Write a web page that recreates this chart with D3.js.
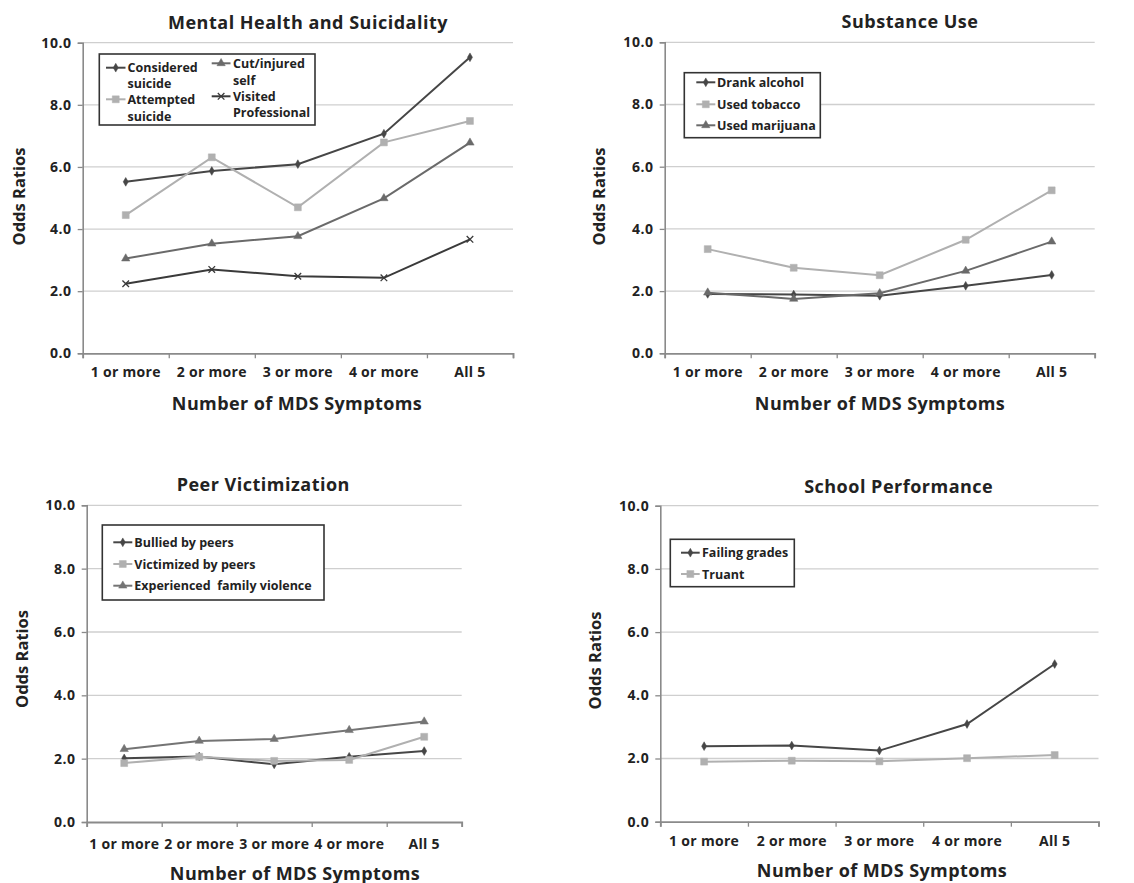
<!DOCTYPE html>
<html>
<head>
<meta charset="utf-8">
<script src="https://cdn.jsdelivr.net/npm/d3@7"></script>
<style>
  html, body { margin: 0; padding: 0; background: #fff; }
  svg { display: block; }
  text { font-family: "Open Sans", "DejaVu Sans", sans-serif; font-weight: 700; fill: #222; }
</style>
</head>
<body>
<svg id="chart" width="1134" height="883"></svg>
<script>
// ---------------- DATA ----------------
const categories = ["1 or more", "2 or more", "3 or more", "4 or more", "All 5"];
const yTickValues = [0, 2, 4, 6, 8, 10];

// Mental Health and Suicidality
const consideredSuicide   = [5.52, 5.87, 6.09, 7.07, 9.53];
const attemptedSuicide    = [4.45, 6.31, 4.70, 6.79, 7.48];
const cutInjuredSelf      = [3.05, 3.53, 3.77, 4.99, 6.78];
const visitedProfessional = [2.24, 2.70, 2.48, 2.43, 3.67];

// Substance Use
const drankAlcohol  = [1.91, 1.89, 1.85, 2.17, 2.52];
const usedTobacco   = [3.35, 2.75, 2.51, 3.65, 5.24];
const usedMarijuana = [1.95, 1.75, 1.93, 2.65, 3.59];

// Peer Victimization
const bulliedByPeers     = [2.01, 2.07, 1.82, 2.06, 2.24];
const victimizedByPeers  = [1.86, 2.06, 1.93, 1.96, 2.69];
const familyViolence     = [2.30, 2.56, 2.62, 2.90, 3.17];

// School Performance
const failingGrades = [2.39, 2.41, 2.25, 3.09, 4.99];
const truant        = [1.90, 1.93, 1.91, 2.01, 2.11];

const panelTitles = ["Mental Health and Suicidality", "Substance Use", "Peer Victimization", "School Performance"];
const xAxisTitle = "Number of MDS Symptoms";
const yAxisTitle = "Odds Ratios";

// ---------------- STYLES ----------------
const DARK = "#464646", LIGHT = "#b0b0b0", MID = "#6a6a6a", DARKER = "#3a3a3a";

const symX = d3.symbolX || d3.symbolTimes;

const panels = [
  {
    title: panelTitles[0],
    box: {left: 82.7, right: 513, top: 42.7, bottom: 353.3},
    titleX: 308, titleY: 29.3, xLabY: 377, xTitleX: 297, xTitleY: 409.5, yTitleX: 25, yTitleY: 196.5,
    series: [
      {name: ["Considered", "suicide"], values: consideredSuicide, color: DARK, sym: d3.symbolDiamond, size: 22},
      {name: ["Attempted", "suicide"], values: attemptedSuicide, color: LIGHT, sym: d3.symbolSquare, size: 48},
      {name: ["Cut/injured", "self"], values: cutInjuredSelf, color: MID, sym: d3.symbolTriangle, size: 30},
      {name: ["Visited", "Professional"], values: visitedProfessional, color: DARKER, sym: symX, size: 30, stroke: true}
    ],
    legend: {x0: 99.3, y0: 54, x1: 315, y1: 125,
      items: [
        {col: 0, lineY: 67.7, lines: [71.5, 87.7]},
        {col: 0, lineY: 99.3, lines: [104.2, 120.5]},
        {col: 1, lineY: 63.3, lines: [68, 84.5]},
        {col: 1, lineY: 96.3, lines: [101, 117.3]}
      ],
      cols: [{l0: 106, l1: 125.5, tx: 127.5}, {l0: 211.7, l1: 230.5, tx: 233}]
    }
  },
  {
    title: panelTitles[1],
    box: {left: 664.7, right: 1094.7, top: 42.3, bottom: 353.3},
    titleX: 910, titleY: 27.5, xLabY: 377, xTitleX: 880, xTitleY: 409.5, yTitleX: 605, yTitleY: 196.5,
    series: [
      {name: ["Drank alcohol"], values: drankAlcohol, color: DARK, sym: d3.symbolDiamond, size: 22},
      {name: ["Used tobacco"], values: usedTobacco, color: LIGHT, sym: d3.symbolSquare, size: 48},
      {name: ["Used marijuana"], values: usedMarijuana, color: MID, sym: d3.symbolTriangle, size: 30}
    ],
    legend: {x0: 684.3, y0: 72.7, x1: 820.3, y1: 137.7,
      items: [
        {col: 0, lineY: 82.3, lines: [86.8]},
        {col: 0, lineY: 104.3, lines: [108.8]},
        {col: 0, lineY: 125.3, lines: [129.8]}
      ],
      cols: [{l0: 696.3, l1: 715.3, tx: 717}]
    }
  },
  {
    title: panelTitles[2],
    box: {left: 86.7, right: 461.7, top: 505.3, bottom: 822},
    titleX: 263.3, titleY: 490.7, xLabY: 849, xTitleX: 295, xTitleY: 879.5, yTitleX: 28, yTitleY: 659,
    series: [
      {name: ["Bullied by peers"], values: bulliedByPeers, color: DARK, sym: d3.symbolDiamond, size: 22},
      {name: ["Victimized by peers"], values: victimizedByPeers, color: LIGHT, sym: d3.symbolSquare, size: 48},
      {name: ["Experienced  family violence"], values: familyViolence, color: "#747474", sym: d3.symbolTriangle, size: 30}
    ],
    legend: {x0: 102.3, y0: 525, x1: 324, y1: 600,
      items: [
        {col: 0, lineY: 542.3, lines: [546.8]},
        {col: 0, lineY: 564, lines: [568.5]},
        {col: 0, lineY: 585.7, lines: [590.2]}
      ],
      cols: [{l0: 113.3, l1: 132.3, tx: 134.3}]
    }
  },
  {
    title: panelTitles[3],
    box: {left: 660.3, right: 1098.5, top: 505.7, bottom: 821.7},
    titleX: 898.7, titleY: 493.3, xLabY: 846, xTitleX: 882, xTitleY: 877, yTitleX: 601, yTitleY: 660.5,
    series: [
      {name: ["Failing grades"], values: failingGrades, color: DARK, sym: d3.symbolDiamond, size: 22},
      {name: ["Truant"], values: truant, color: LIGHT, sym: d3.symbolSquare, size: 48}
    ],
    legend: {x0: 670.3, y0: 539.3, x1: 794.3, y1: 586.7,
      items: [
        {col: 0, lineY: 552.7, lines: [557.2]},
        {col: 0, lineY: 574, lines: [578.5]}
      ],
      cols: [{l0: 681, l1: 699.7, tx: 702}]
    }
  }
];

const svg = d3.select("#chart");

function drawMarker(g, s, x, y) {
  const path = d3.symbol().type(s.sym).size(s.size)();
  const m = g.append("path").attr("d", path).attr("transform", `translate(${x},${y})`);
  if (s.stroke) m.attr("fill", "none").attr("stroke", s.color).attr("stroke-width", 1.3);
  else m.attr("fill", s.color).attr("stroke", s.color).attr("stroke-width", 0.5);
}

panels.forEach(p => {
  const g = svg.append("g");
  const b = p.box;
  const x = d3.scaleBand().domain(categories).range([b.left, b.right]).padding(0);
  const xEdges = d3.scaleLinear().domain([0, categories.length]).range([b.left, b.right]);
  const y = d3.scaleLinear().domain([0, 10]).range([b.bottom, b.top]);

  // gridlines
  g.append("g").selectAll("line").data(yTickValues.filter(v => v > 0)).join("line")
    .attr("x1", b.left).attr("x2", b.right)
    .attr("y1", d => y(d)).attr("y2", d => y(d))
    .attr("stroke", "#cfcfcf").attr("stroke-width", 1.3);

  // y axis
  const yAxis = g.append("g").attr("transform", `translate(${b.left},0)`)
    .call(d3.axisLeft(y).tickValues(yTickValues).tickFormat(d3.format(".1f")).tickSize(5).tickPadding(6));
  yAxis.select(".domain").attr("stroke", "#8a8a8a").attr("stroke-width", 1.6);
  yAxis.selectAll(".tick line").attr("stroke", "#8a8a8a").attr("stroke-width", 1.3);
  yAxis.selectAll(".tick text").attr("font-size", 14).attr("font-weight", 700)
    .attr("letter-spacing", 0.6)
    .attr("font-family", "'Open Sans', sans-serif").attr("fill", "#222");

  // x axis: edges ticks
  const xTicks = g.append("g").attr("transform", `translate(0,${b.bottom})`)
    .call(d3.axisBottom(xEdges).tickValues(d3.range(categories.length + 1)).tickFormat("").tickSize(5));
  xTicks.select(".domain").attr("stroke", "#8a8a8a").attr("stroke-width", 1.8);
  xTicks.selectAll(".tick line").attr("stroke", "#8a8a8a").attr("stroke-width", 1.3);

  // x axis labels
  const xLab = g.append("g").attr("transform", `translate(0,${b.bottom})`)
    .call(d3.axisBottom(x).tickSize(0).tickPadding(0));
  xLab.select(".domain").remove();
  xLab.selectAll(".tick text").attr("y", p.xLabY - b.bottom).attr("dy", 0)
    .attr("font-size", 14).attr("font-weight", 700).attr("letter-spacing", 0.3)
    .attr("font-family", "'Open Sans', sans-serif").attr("fill", "#222");

  // title
  g.append("text").attr("x", p.titleX).attr("y", p.titleY).attr("text-anchor", "middle")
    .attr("font-size", 18).attr("letter-spacing", 0.5).text(p.title);
  // x title
  g.append("text").attr("x", p.xTitleX).attr("y", p.xTitleY).attr("text-anchor", "middle")
    .attr("font-size", 18).attr("letter-spacing", 0.4).text(xAxisTitle);
  // y title
  g.append("text").attr("transform", `translate(${p.yTitleX},${p.yTitleY}) rotate(-90)`)
    .attr("text-anchor", "middle").attr("font-size", 16.5).text(yAxisTitle);

  // series
  const line = d3.line().x((d, i) => x(categories[i]) + x.bandwidth() / 2).y(d => y(d));
  p.series.forEach(s => {
    g.append("path").datum(s.values).attr("d", line).attr("fill", "none")
      .attr("stroke", s.color).attr("stroke-width", 2);
    s.values.forEach((v, i) => drawMarker(g, s, x(categories[i]) + x.bandwidth() / 2, y(v)));
  });

  // legend
  const L = p.legend;
  g.append("rect").attr("x", L.x0).attr("y", L.y0).attr("width", L.x1 - L.x0).attr("height", L.y1 - L.y0)
    .attr("fill", "#fff").attr("stroke", "#333").attr("stroke-width", 1.6);
  L.items.forEach((it, i) => {
    const s = p.series[i];
    const c = L.cols[it.col];
    g.append("line").attr("x1", c.l0).attr("x2", c.l1).attr("y1", it.lineY).attr("y2", it.lineY)
      .attr("stroke", s.color).attr("stroke-width", 2);
    drawMarker(g, s, (c.l0 + c.l1) / 2, it.lineY);
    s.name.forEach((t, k) => {
      g.append("text").attr("x", c.tx).attr("y", it.lines[k]).attr("font-size", 12.5)
        .attr("xml:space", "preserve").style("white-space", "pre").text(t);
    });
  });
});
</script>
</body>
</html>
